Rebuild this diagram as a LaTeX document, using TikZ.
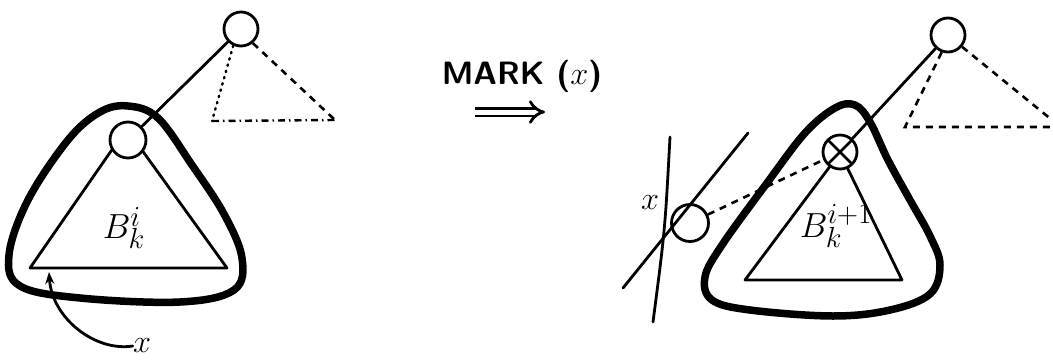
\documentclass[tikz,border=0pt]{standalone}
\usepackage{graphicx}
\usetikzlibrary{arrows.meta}
\begin{document}
\begin{tikzpicture}[x=1pt,y=-1pt,
  thin line/.style={line width=2.8pt, line cap=round},
  thick outline/.style={line width=7.5pt, line join=round},
  treenode/.style={circle, draw, line width=2.8pt, minimum size=34pt, inner sep=0pt},
  markednode/.style={treenode, path picture={
      \draw[line width=2.8pt] ([shift={(-12pt,12pt)}]path picture bounding box.center) -- ([shift={(12pt,-12pt)}]path picture bounding box.center);
      \draw[line width=2.8pt] ([shift={(-12pt,-12pt)}]path picture bounding box.center) -- ([shift={(12pt,12pt)}]path picture bounding box.center);}},
  dotline/.style={line width=2.4pt, dash pattern=on 1.5pt off 5pt, line cap=round},
  dashline/.style={line width=2.6pt, dash pattern=on 7pt off 6pt},
  dashdotline/.style={line width=2.4pt, dash pattern=on 7pt off 4pt on 1.5pt off 4pt},
  lbl/.style={inner sep=0pt, font=\Huge}
]
\useasboundingbox (0,0) rectangle (1053,362);

% ---------- left figure ----------
\node[treenode] (t1) at (241,29) {};
\node[treenode, minimum size=36pt] (c1) at (128,140) {};
\draw[thin line] (t1) -- (c1);
\coordinate (lA) at (212,121);
\coordinate (lB) at (335,120);
\draw[dotline] (t1.-115) -- (lA);
\draw[dashdotline] (lA) -- (lB);
\draw[dashline] (t1.-50) -- (lB);
\coordinate (bl1) at (30,268);
\coordinate (br1) at (227,268);
\draw[thin line, line join=round] (c1.212) -- (bl1) -- (br1) -- (c1.-38);
\draw[thick outline] plot[smooth cycle, tension=0.6] coordinates
  {(128,106) (158,118) (192,165) (224,214) (242,258) (234,290) (180,302)
   (80,298) (20,286) (9,255) (28,200) (68,140) (100,112)};
\node[lbl] (Bi) at (124,228) {\scalebox{1.4}{$B_{k}^{i}$}};
\node[lbl] (xl) at (142,346) {\scalebox{1.3}{$x$}};
\draw[thin line, -{Stealth[length=12pt,width=9pt]}] (xl.west) .. controls (95,352) and (52,318) .. (49,272);

% ---------- transformation ----------
\node[inner sep=0pt, font=\sffamily\bfseries\Huge] (mark) at (522,76) {\scalebox{1.3}{MARK ($x$)}};
\coordinate (aS) at (475,112);
\coordinate (aE) at (545,112);
\draw[line width=2.8pt, double, double distance=5pt, -{Implies}] (aS) -- (aE);

% ---------- right figure ----------
\node[treenode] (t2) at (948,35) {};
\node[markednode] (x2) at (840,152) {};
\draw[thin line] (t2) -- (x2);
\coordinate (rA) at (905,127);
\coordinate (rB) at (1052,127);
\draw[dashline] (t2.-110) -- (rA) -- (rB);
\draw[dashline] (t2.-40) -- (1052,120);
\coordinate (bl2) at (745,280);
\coordinate (br2) at (902,280);
\draw[thin line, line join=round] (x2.-125) -- (bl2) -- (br2) -- (x2.-65);
\draw[thick outline] plot[smooth cycle, tension=0.6] coordinates
  {(855,105) (870,122) (888,160) (910,200) (930,236) (940,265) (930,294) (890,310)
   (833,316) (750,310) (712,300) (705,277) (722,245) (767,183) (805,133) (835,108)};
\node[lbl] (Bi1) at (836,226) {\scalebox{1.4}{$B_{k}^{i+1}$}};
\node[treenode, minimum size=37pt] (s) at (690,223) {};
\draw[dashline] (s) -- (x2);
\coordinate (dA) at (623,288);
\coordinate (dB) at (748,133);
\draw[thin line] (dA) -- (dB);
\coordinate (vA) at (670,137);
\coordinate (vB) at (653,322);
\draw[thin line] (vA) .. controls (665,230) .. (vB);
\node[lbl] (xs) at (650,203) {\scalebox{1.3}{$x$}};
\end{tikzpicture}
\end{document}
